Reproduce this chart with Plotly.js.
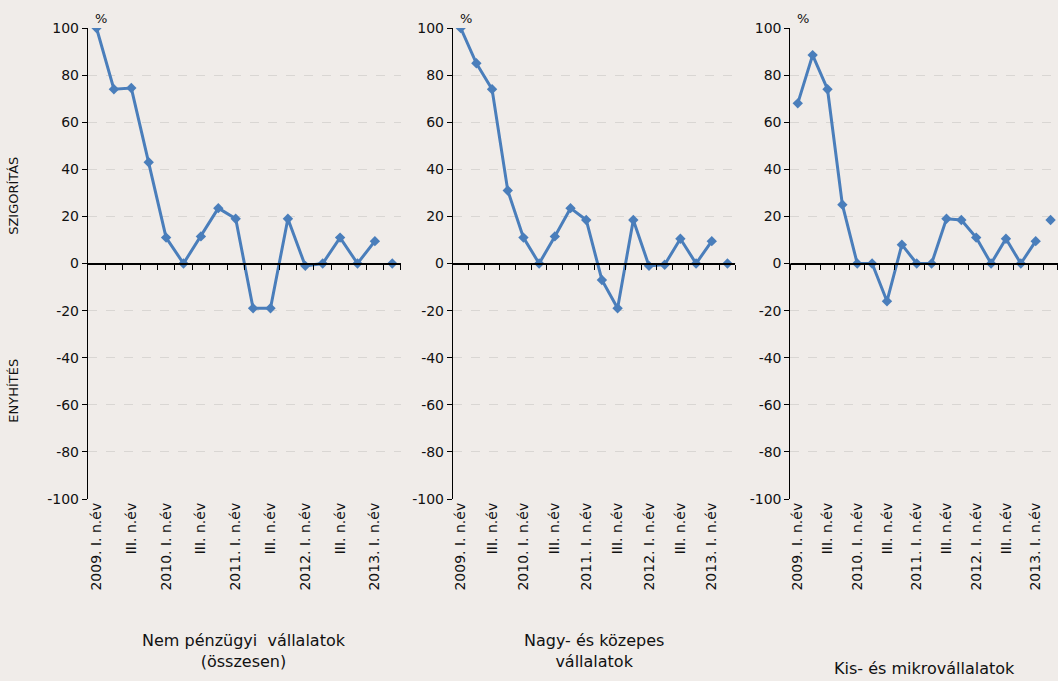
<!DOCTYPE html>
<html><head><meta charset="utf-8">
<script src="https://cdn.plot.ly/plotly-3.0.1.min.js"></script>
<style>body{margin:0;background:#f0ece9}</style>
</head><body>
<div id="chart" style="width:1058px;height:681px"></div>
<script>
const tickLabels = ["2009. I. n.év", "III. n.év", "2010. I. n.év", "III. n.év", "2011. I. n.év",
  "III. n.év", "2012. I. n.év", "III. n.év", "2013. I. n.év"];
const yTicks = [-100, -80, -60, -40, -20, 0, 20, 40, 60, 80, 100];
const osszesen = [100, 74, 74.5, 43, 11, 0, 11.5, 23.5, 19, -19, -19, 19, -1, 0, 11, 0, 9.5];
const osszesenNext = 0;
const nagy = [100, 85, 74, 31, 11, 0, 11.5, 23.5, 18.5, -7, -19, 18.5, -1, -0.5, 10.5, 0, 9.5];
const nagyNext = 0;
const kis = [68, 88.5, 74, 25, 0, 0, -16, 8, 0, 0, 19, 18.5, 11, 0, 10.5, 0, 9.5];
const kisNext = 18.5;
const titles = ["Nem pénzügyi  vállalatok<br>(összesen)", "Nagy- és közepes<br>vállalatok", "Kis- és mikrovállalatok"];

const panels = [[osszesen, osszesenNext], [nagy, nagyNext], [kis, kisNext]];
const domains = [[0.083, 0.379], [0.428, 0.695], [0.747, 1.055]];
const titleY = [-0.275, -0.275, -0.335];
const blue = "#4a7ebb";
const font = {family: "DejaVu Sans", size: 13, color: "#111"};
const data = [], layout = {
  width: 1058, height: 681, paper_bgcolor: "#f0ece9", plot_bgcolor: "#f0ece9",
  margin: {l: 0, r: 0, t: 28, b: 182}, showlegend: false, font: font,
  annotations: [
    {text: "SZIGORÍTÁS", xref: "paper", yref: "paper", x: 0.012, y: 0.73, xanchor: "center", textangle: -90, showarrow: false, font: {size: 13}},
    {text: "ENYHÍTÉS", xref: "paper", yref: "paper", x: 0.012, y: 0.157, xanchor: "center", textangle: -90, showarrow: false, font: {size: 13}}
  ]
};
const qx = osszesen.map((v, i) => i);
panels.forEach(([vals, next], k) => {
  const n = k + 1, xa = "x" + (k * 2 + 1), xb = "x" + (k * 2 + 2), ya = "y" + n;
  const marker = {symbol: "diamond", size: 8, color: blue};
  data.push({x: qx, y: vals, xaxis: xa, yaxis: ya, mode: "lines+markers", line: {color: blue, width: 3}, marker: marker});
  data.push({x: [vals.length], y: [next], xaxis: xa, yaxis: ya, mode: "markers", marker: marker});
  const xn = k * 2 + 1;
  layout["xaxis" + (xn === 1 ? "" : xn)] = {
    domain: domains[k], range: [-0.5, 17.5], anchor: ya, showgrid: false, zeroline: false,
    tickmode: "array", tickvals: tickLabels.map((t, i) => i * 2), ticktext: tickLabels,
    tickangle: -90, ticks: "", tickfont: {size: 14}
  };
  layout["xaxis" + (xn + 1)] = {
    domain: domains[k], range: [-0.5, 17.5], anchor: "free", overlaying: xa, position: 0.5,
    showline: true, linecolor: "#000", showgrid: false, zeroline: false, showticklabels: false,
    tickmode: "linear", tick0: 0.5, dtick: 1, ticks: "outside", ticklen: 5, tickcolor: "#000"
  };
  layout["yaxis" + (n === 1 ? "" : n)] = {
    anchor: xa, range: [-100, 100], tickmode: "array", tickvals: yTicks, ticktext: yTicks.map(String),
    showline: true, linecolor: "#000",
    ticks: "outside", ticklen: 5, tickcolor: "#000", zeroline: false,
    gridcolor: "#d9d6d3", griddash: "dash", tickfont: {size: 14}
  };
  data.push({x: [-0.5, 17.5], y: [0, 0], xaxis: xb, yaxis: ya, mode: "lines", line: {color: "#000", width: 1}, hoverinfo: "skip"});
  layout.annotations.push({text: "%", xref: "paper", yref: "paper", x: domains[k][0] + 0.012, y: 1.0, xanchor: "center", yanchor: "bottom", showarrow: false, font: {size: 13}});
  layout.annotations.push({text: titles[k], xref: "paper", yref: "paper", x: (domains[k][0] + Math.min(domains[k][1], 1)) / 2, y: titleY[k], xanchor: "center", yanchor: "top", showarrow: false, font: {size: 16}});
});
Plotly.newPlot("chart", data, layout, {displayModeBar: false});
</script>
</body></html>
